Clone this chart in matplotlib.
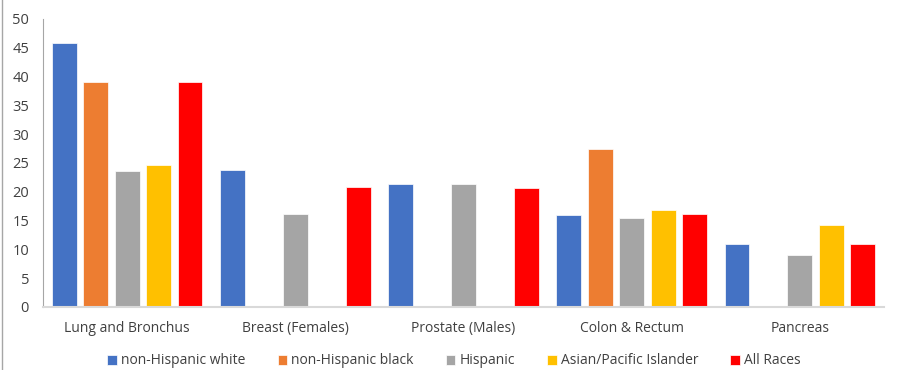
import numpy as np
import matplotlib.pyplot as plt
from matplotlib.lines import Line2D

sites = ['Lung and Bronchus', 'Breast (Females)', 'Prostate (Males)', 'Colon & Rectum', 'Pancreas']
series = ['non-Hispanic white', 'non-Hispanic black', 'Hispanic', 'Asian/Pacific Islander', 'All Races']
colors = ['#4472C4', '#ED7D31', '#A5A5A5', '#FFC000', '#FF0000']

white = [45.9, 23.7, 21.4, 16.0, 11.0]
black = [39.1, np.nan, np.nan, 27.5, np.nan]
hispanic = [23.6, 16.1, 21.3, 15.4, 9.1]
asian = [24.7, np.nan, np.nan, 16.8, 14.3]
all_races = [39.1, 20.8, 20.6, 16.1, 10.9]
values = [white, black, hispanic, asian, all_races]

plt.rcParams['font.family'] = ['Open Sans', 'DejaVu Sans']

fig = plt.figure(figsize=(9.01, 3.70), dpi=100)
ax = fig.add_axes([43 / 901, 1 - 307 / 370, (884 - 43) / 901, 288 / 370])

x = np.arange(len(sites))
pitch = 0.187
width = 0.148
for i, (vals, c) in enumerate(zip(values, colors)):
    ax.bar(x + (i - 2) * pitch, vals, width, color=c, edgecolor='white',
           linewidth=0.5, label=series[i])

ax.set_xlim(-0.5, len(sites) - 0.5)
ax.set_ylim(0, 50)
ax.set_yticks(range(0, 51, 5))
ax.set_xticks(x)
ax.set_xticklabels(sites, fontsize=10, color='#404040')
ax.tick_params(axis='y', labelsize=10.5, colors='#404040', length=0, pad=10)
ax.tick_params(axis='x', length=0, pad=10)
for s in ['top', 'right']:
    ax.spines[s].set_visible(False)
ax.spines['left'].set_color('#A6A6A6')
ax.spines['bottom'].set_color('#D9D9D9')
ax.spines['bottom'].set_linewidth(1.5)

fig.legend(loc='center', bbox_to_anchor=(0.504, 9 / 370), ncol=5,
           frameon=False, fontsize=10, handlelength=0.7, handleheight=0.7,
           handletextpad=0.3, columnspacing=2.3, labelcolor='#404040')

fig.add_artist(Line2D([1.5 / 901, 1.5 / 901], [0, 1], color='#A6A6A6', lw=1))

fig.savefig('out.png', dpi=100)
